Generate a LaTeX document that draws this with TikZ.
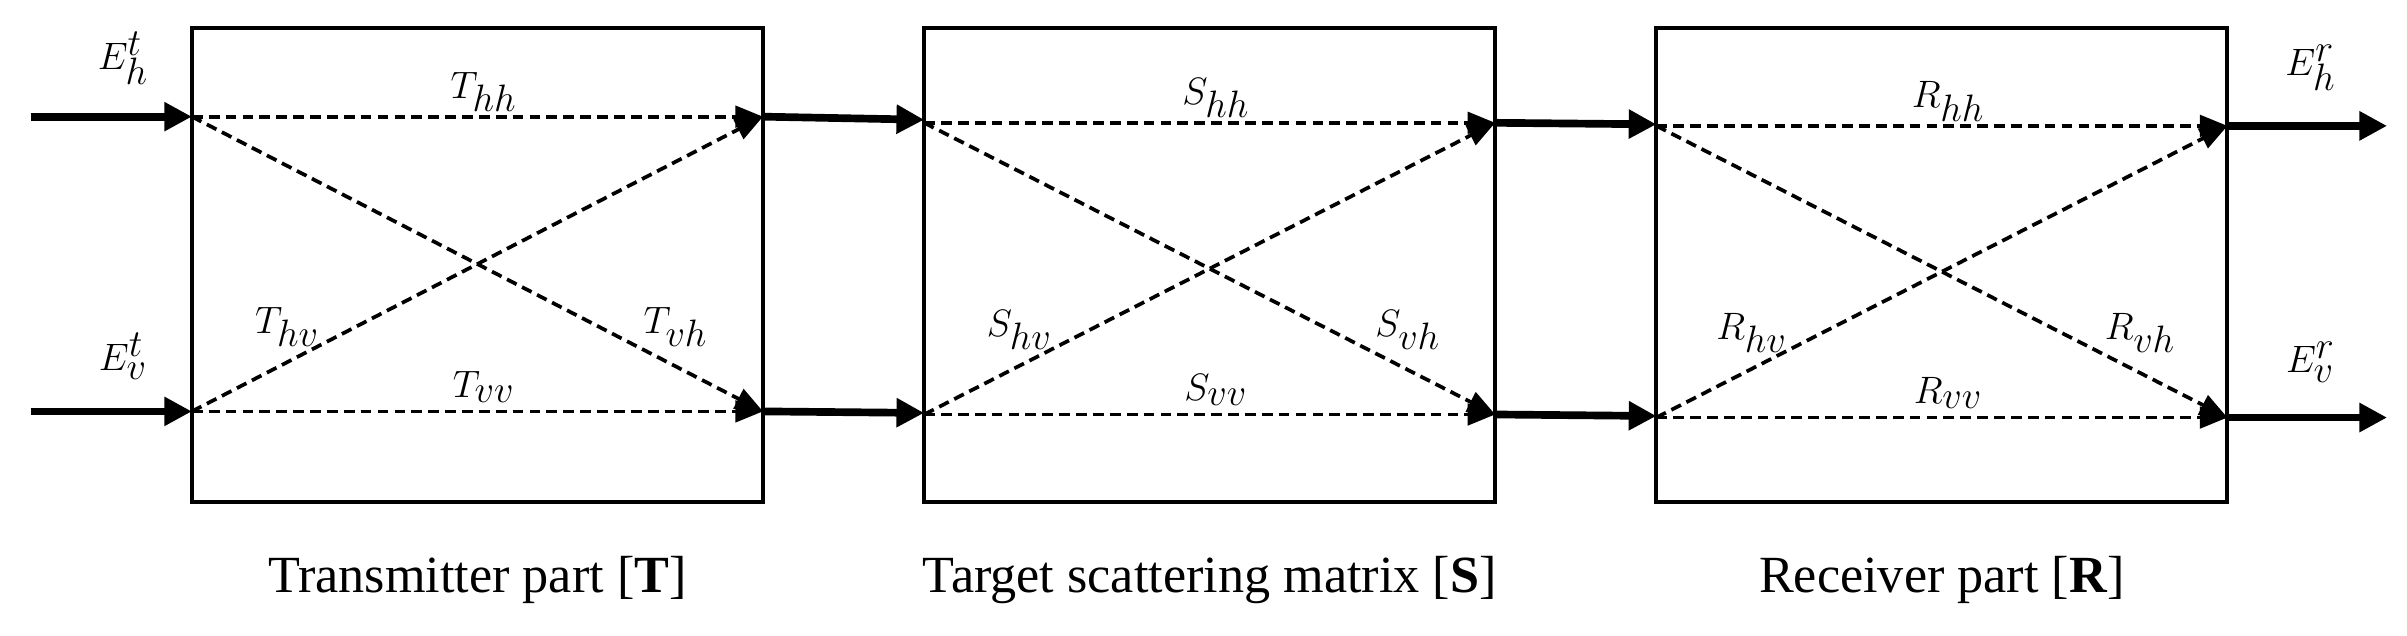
\documentclass[tikz,border=0pt]{standalone}
\usepackage{fontspec}
\setmainfont{Liberation Serif}
\usetikzlibrary{arrows.meta}
\begin{document}
\begin{tikzpicture}[x=1pt,y=-1pt,
  box/.style={draw,line width=2.6pt},
  thick arr/.style={line width=5pt,-{Triangle[length=18pt,width=18pt]}},
  dash arr/.style={line width=2.4pt,dash pattern=on 7pt off 4pt,-{Triangle[length=18pt,width=14pt]}},
  lab/.style={font=\fontsize{36}{42}\selectfont},
  captext/.style={font=\fontsize{34}{40}\selectfont}]
\useasboundingbox (0,0) rectangle (1568,414);
\foreach \i/\x/\yt/\yb/\L/\capt in {1/125/76/268/T/{Transmitter part [\textbf{T}]},2/602/80/270/S/{Target scattering matrix [\textbf{S}]},3/1079/82/272/R/{Receiver part [\textbf{R}]}}{
  \pgfmathsetmacro{\xr}{\x+372}
  \draw[box] (\x,18) rectangle (\xr,327);
  \coordinate (a\i) at (\x,\yt);
  \coordinate (b\i) at (\x,\yb);
  \coordinate (c\i) at (\xr,\yt);
  \coordinate (d\i) at (\xr,\yb);
  \draw[dash arr] (a\i) -- (c\i);
  \draw[dash arr] (b\i) -- (d\i);
  \draw[dash arr] (a\i) -- (d\i);
  \draw[dash arr] (b\i) -- (c\i);
  \node[lab] (hh\i) at (\x+190,\yt-16) {$\L_{hh}$};
  \node[lab] (vv\i) at (\x+190,\yb-16) {$\L_{vv}$};
  \node[lab] (hv\i) at (\x+62,\yb-55) {$\L_{hv}$};
  \node[lab] (vh\i) at (\x+315,\yb-55) {$\L_{vh}$};
  \node[captext] (cap\i) at (\x+186,378) {\capt};
}
\coordinate (in1) at (20,76);
\coordinate (in2) at (20,268);
\draw[thick arr] (in1) -- (a1);
\draw[thick arr] (in2) -- (b1);
\draw[thick arr] (c1) -- (602,78);
\draw[thick arr] (d1) -- (602,269);
\draw[thick arr] (c2) -- (1079,81);
\draw[thick arr] (d2) -- (1079,271);
\coordinate (o1) at (1555,82);
\coordinate (o2) at (1555,272);
\draw[thick arr] (c3) -- (o1);
\draw[thick arr] (d3) -- (o2);
\node[lab] (eht) at (80,38) {$E_h^t$};
\node[lab] (evt) at (80,232) {$E_v^t$};
\node[lab] (ehr) at (1505,44) {$E_h^r$};
\node[lab] (evr) at (1505,236) {$E_v^r$};
\end{tikzpicture}
\end{document}
